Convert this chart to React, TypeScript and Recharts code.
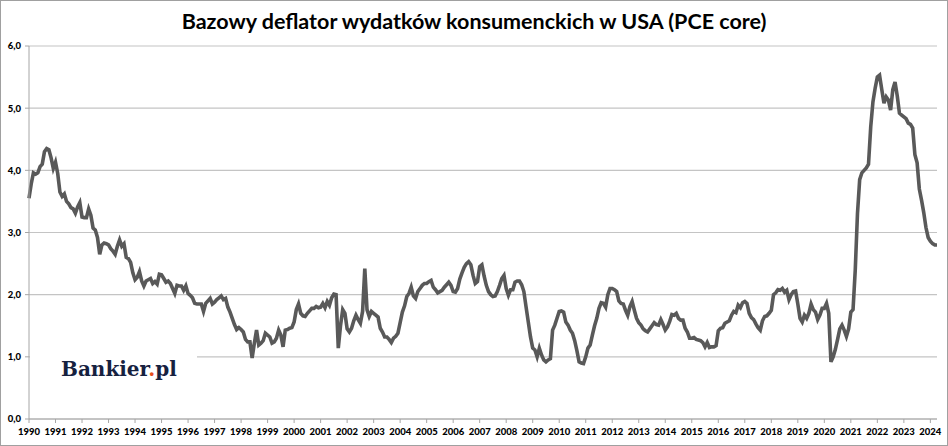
import { LineChart, Line, XAxis, YAxis, CartesianGrid } from "recharts";

// tick labels for the x axis (one per January)
const yearLabels: string[] = [
  "1990", "1991", "1992", "1993", "1994", "1995", "1996", "1997", "1998",
  "1999", "2000", "2001", "2002", "2003", "2004", "2005", "2006", "2007",
  "2008", "2009", "2010", "2011", "2012", "2013", "2014", "2015", "2016",
  "2017", "2018", "2019", "2020", "2021", "2022", "2023", "2024",
];

const yTicks: number[] = [0, 1, 2, 3, 4, 5, 6];

// core PCE, % r/r, monthly from Jan 1990 to Apr 2024
const pceCore: number[] = [
  3.55, 3.78, 3.96, 3.94, 3.96, 4.06, 4.1, 4.3, 4.35, 4.33, 4.2, 4.03, // 1990
  4.13, 3.95, 3.65, 3.58, 3.62, 3.5, 3.46, 3.4, 3.38, 3.31, 3.41, 3.48, // 1991
  3.25, 3.24, 3.24, 3.38, 3.28, 3.07, 3.04, 2.92, 2.65, 2.8, 2.83, 2.82, // 1992
  2.8, 2.74, 2.7, 2.65, 2.78, 2.88, 2.78, 2.82, 2.6, 2.58, 2.52, 2.35, // 1993
  2.24, 2.28, 2.37, 2.22, 2.14, 2.22, 2.24, 2.26, 2.18, 2.21, 2.17, 2.33, // 1994
  2.32, 2.26, 2.2, 2.22, 2.18, 2.1, 2.02, 2.15, 2.14, 2.14, 2.07, 2.14, // 1995
  2.02, 1.99, 1.95, 1.86, 1.85, 1.85, 1.85, 1.73, 1.86, 1.9, 1.94, 1.85, // 1996
  1.88, 1.92, 1.95, 1.98, 1.92, 1.94, 1.8, 1.72, 1.62, 1.52, 1.44, 1.47, // 1997
  1.44, 1.4, 1.28, 1.24, 1.24, 0.98, 1.22, 1.43, 1.19, 1.22, 1.26, 1.38, // 1998
  1.35, 1.32, 1.22, 1.24, 1.3, 1.43, 1.35, 1.16, 1.43, 1.44, 1.46, 1.47, // 1999
  1.56, 1.76, 1.85, 1.7, 1.66, 1.65, 1.7, 1.74, 1.78, 1.78, 1.81, 1.79, // 2000
  1.8, 1.86, 1.79, 1.89, 1.83, 1.95, 2.01, 2.0, 1.14, 1.5, 1.76, 1.7, // 2001
  1.45, 1.4, 1.46, 1.58, 1.67, 1.6, 1.54, 1.73, 2.42, 1.76, 1.65, 1.73, // 2002
  1.7, 1.67, 1.64, 1.46, 1.4, 1.32, 1.32, 1.28, 1.23, 1.3, 1.33, 1.38, // 2003
  1.55, 1.72, 1.82, 1.97, 2.02, 2.12, 1.98, 1.94, 2.05, 2.1, 2.15, 2.18, // 2004
  2.18, 2.21, 2.23, 2.12, 2.08, 2.03, 2.05, 2.07, 2.12, 2.16, 2.2, 2.15, // 2005
  2.05, 2.04, 2.1, 2.25, 2.35, 2.44, 2.5, 2.53, 2.48, 2.31, 2.18, 2.21, // 2006
  2.45, 2.48, 2.3, 2.15, 2.05, 2.0, 1.97, 1.98, 2.05, 2.15, 2.26, 2.31, // 2007
  2.1, 1.99, 2.08, 2.08, 2.2, 2.22, 2.22, 2.16, 2.05, 1.8, 1.56, 1.32, // 2008
  1.14, 1.11, 1.0, 1.14, 1.03, 0.95, 0.92, 0.95, 0.97, 1.43, 1.51, 1.62, // 2009
  1.73, 1.74, 1.72, 1.56, 1.51, 1.43, 1.38, 1.26, 1.1, 0.92, 0.9, 0.89, // 2010
  1.0, 1.14, 1.19, 1.35, 1.5, 1.62, 1.78, 1.87, 1.86, 1.8, 2.0, 2.1, // 2011
  2.1, 2.08, 2.05, 1.9, 1.86, 1.85, 1.75, 1.67, 1.81, 1.89, 1.75, 1.62, // 2012
  1.55, 1.51, 1.45, 1.42, 1.4, 1.45, 1.5, 1.55, 1.52, 1.51, 1.6, 1.52, // 2013
  1.43, 1.48, 1.57, 1.68, 1.67, 1.7, 1.62, 1.59, 1.59, 1.46, 1.4, 1.3, // 2014
  1.3, 1.31, 1.28, 1.27, 1.26, 1.23, 1.16, 1.23, 1.15, 1.16, 1.16, 1.18, // 2015
  1.42, 1.46, 1.47, 1.54, 1.56, 1.58, 1.67, 1.73, 1.71, 1.83, 1.79, 1.87, // 2016
  1.89, 1.86, 1.7, 1.63, 1.6, 1.53, 1.47, 1.43, 1.58, 1.65, 1.66, 1.7, // 2017
  1.75, 2.0, 2.03, 2.08, 2.07, 2.1, 2.04, 2.07, 1.92, 2.0, 2.05, 2.06, // 2018
  1.85, 1.62, 1.56, 1.67, 1.62, 1.7, 1.85, 1.76, 1.72, 1.6, 1.67, 1.78, // 2019
  1.78, 1.86, 1.7, 0.92, 1.0, 1.12, 1.28, 1.45, 1.51, 1.43, 1.33, 1.45, // 2020
  1.72, 1.76, 2.4, 3.3, 3.85, 3.96, 4.0, 4.04, 4.1, 4.7, 5.1, 5.32, // 2021
  5.5, 5.53, 5.3, 5.08, 5.18, 5.13, 4.97, 5.3, 5.42, 5.2, 4.92, 4.89, // 2022
  4.86, 4.83, 4.76, 4.74, 4.68, 4.25, 4.12, 3.7, 3.52, 3.32, 3.08, 2.92, // 2023
  2.86, 2.82, 2.8, 2.8, // 2024
];

const data = pceCore.map((v, i) => ({ m: i, v }));

const fmtY = (v: number) => v.toFixed(1).replace(".", ",");

const tickStyle = {
  fontFamily: "Lato, 'Open Sans', sans-serif",
  fontSize: 9.5,
  fontWeight: 900,
  fill: "#000",
};

export default function App() {
  return (
    <div
      style={{
        position: "absolute",
        left: 0,
        top: 0,
        width: 948,
        height: 446,
        boxSizing: "border-box",
        border: "1px solid #a0a0a0",
        background: "#fff",
      }}
    >
      <div
        style={{
          position: "absolute",
          top: 7,
          left: 0,
          width: 946,
          textAlign: "center",
          fontFamily: "Lato, sans-serif",
          fontWeight: 700,
          fontSize: 21.5,
          lineHeight: "26px",
          color: "#000",
        }}
      >
        Bazowy deflator wydatków konsumenckich w USA (PCE core)
      </div>
      <div style={{ position: "absolute", left: -1, top: -1 }}>
        <LineChart
          width={948}
          height={446}
          data={data}
          margin={{ top: 46, right: 11, bottom: 0, left: 0 }}
        >
          <CartesianGrid vertical={false} stroke="#c4c4c4" strokeWidth={1.2} />
          <XAxis
            type="number"
            dataKey="m"
            domain={[0, 411]}
            ticks={yearLabels.map((_, i) => i * 12)}
            interval={0}
            tickFormatter={(v: number) => yearLabels[Math.round(v / 12)]}
            height={27}
            tickSize={4}
            tickMargin={5}
            stroke="#a6a6a6"
            tick={tickStyle}
          />
          <YAxis
            domain={[0, 6]}
            ticks={yTicks}
            width={29}
            tickFormatter={fmtY}
            tickSize={4}
            tickMargin={4}
            stroke="#a6a6a6"
            tick={tickStyle}
          />
          <Line
            type="linear"
            dataKey="v"
            stroke="#595959"
            strokeWidth={3.6}
            dot={false}
            isAnimationActive={false}
          />
        </LineChart>
      </div>
      <div
        style={{
          position: "absolute",
          left: 29,
          top: 349,
          width: 167,
          height: 38,
          background: "#fff",
          lineHeight: "38px",
          fontFamily: "'DejaVu Serif', serif",
          fontWeight: 700,
          fontSize: 20,
          color: "#16213f",
        }}
      >
        <span style={{ marginLeft: 31 }}>
          Bankier<span style={{ color: "#e8501e" }}>.</span>pl
        </span>
      </div>
    </div>
  );
}
